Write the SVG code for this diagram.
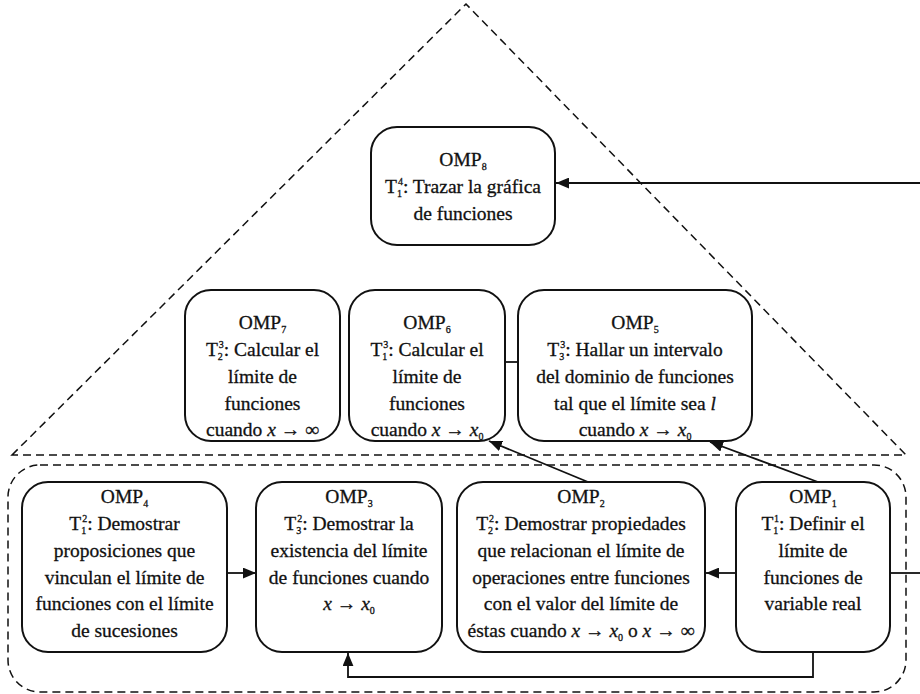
<svg xmlns="http://www.w3.org/2000/svg" width="920" height="694" viewBox="0 0 920 694">
<style>
.box{fill:#fff;stroke:#111;stroke-width:2}
.dash{fill:none;stroke:#111;stroke-width:1.5;stroke-dasharray:8 5}
.ln{fill:none;stroke:#111;stroke-width:1.8}
.t text{font-size:19.5px;fill:#111;stroke:#111;stroke-width:0.3;text-anchor:middle}
.s{font-size:10px}
.i{font-style:italic}
</style>
<defs>
<marker id="ah" viewBox="0 0 12 10" refX="12" refY="5" markerWidth="13" markerHeight="11" markerUnits="userSpaceOnUse" orient="auto">
<path d="M0,0 L12,5 L0,10 z" fill="#111"/>
</marker>
</defs>
<rect width="920" height="694" fill="#fff"/>
<g id="regions">
<path class="dash" d="M12,455 L466,4 L906,455 Z"/>
<rect class="dash" x="8" y="465" width="898" height="227" rx="32"/>
</g>
<g id="connectors">
<line class="ln" x1="920" y1="183" x2="556" y2="183" marker-end="url(#ah)"/>
<line class="ln" x1="505" y1="362" x2="518" y2="362"/>
<line class="ln" x1="227" y1="573" x2="256" y2="573" marker-end="url(#ah)"/>
<line class="ln" x1="736" y1="573" x2="706" y2="573" marker-end="url(#ah)"/>
<line class="ln" x1="890" y1="573" x2="920" y2="573"/>
<polyline class="ln" points="813,652 813,677 348,677 348,653" marker-end="url(#ah)"/>
<line class="ln" x1="588" y1="482" x2="489" y2="441" marker-end="url(#ah)"/>
<line class="ln" x1="818" y1="482" x2="710" y2="442" marker-end="url(#ah)"/>
</g>
<g class="t" font-family="'Liberation Serif', 'Times New Roman', 'DejaVu Serif', serif">
<g id="omp8">
<rect class="box" x="371" y="127" width="184" height="118" rx="26"/>
<text x="463" y="166">OMP<tspan class="s" dy="4">8</tspan></text>
<text x="463" y="193">T<tspan class="s" dy="4">1</tspan><tspan class="s" dx="-4" dy="-12">4</tspan><tspan dy="8">: Trazar la gráfica</tspan></text>
<text x="463" y="220">de funciones</text>
</g>
<g id="omp7">
<rect class="box" x="185" y="290" width="155" height="151" rx="26"/>
<text x="262.5" y="329">OMP<tspan class="s" dy="4">7</tspan></text>
<text x="262.5" y="356">T<tspan class="s" dy="4">2</tspan><tspan class="s" dx="-4" dy="-12">3</tspan><tspan dy="8">: Calcular el</tspan></text>
<text x="262.5" y="383">límite de</text>
<text x="262.5" y="410">funciones</text>
<text x="262.5" y="436">cuando <tspan class="i">x</tspan> → ∞</text>
</g>
<g id="omp6">
<rect class="box" x="349" y="290" width="156" height="151" rx="26"/>
<text x="427" y="329">OMP<tspan class="s" dy="4">6</tspan></text>
<text x="427" y="356">T<tspan class="s" dy="4">1</tspan><tspan class="s" dx="-4" dy="-12">3</tspan><tspan dy="8">: Calcular el</tspan></text>
<text x="427" y="383">límite de</text>
<text x="427" y="410">funciones</text>
<text x="427" y="436">cuando <tspan class="i">x</tspan> → <tspan class="i">x</tspan><tspan class="s" dy="4">0</tspan></text>
</g>
<g id="omp5">
<rect class="box" x="518" y="290" width="234" height="151" rx="26"/>
<text x="635" y="329">OMP<tspan class="s" dy="4">5</tspan></text>
<text x="635" y="356">T<tspan class="s" dy="4">3</tspan><tspan class="s" dx="-4" dy="-12">3</tspan><tspan dy="8">: Hallar un intervalo</tspan></text>
<text x="635" y="383">del dominio de funciones</text>
<text x="635" y="410">tal que el límite sea <tspan class="i">l</tspan></text>
<text x="635" y="436">cuando <tspan class="i">x</tspan> → <tspan class="i">x</tspan><tspan class="s" dy="4">0</tspan></text>
</g>
<g id="omp4">
<rect class="box" x="22" y="482" width="205" height="170" rx="26"/>
<text x="124.5" y="503">OMP<tspan class="s" dy="4">4</tspan></text>
<text x="124.5" y="530">T<tspan class="s" dy="4">1</tspan><tspan class="s" dx="-4" dy="-12">2</tspan><tspan dy="8">: Demostrar</tspan></text>
<text x="124.5" y="557">proposiciones que</text>
<text x="124.5" y="584">vinculan el límite de</text>
<text x="124.5" y="610">funciones con el límite</text>
<text x="124.5" y="637">de sucesiones</text>
</g>
<g id="omp3">
<rect class="box" x="256" y="482" width="186" height="170" rx="26"/>
<text x="349" y="503">OMP<tspan class="s" dy="4">3</tspan></text>
<text x="349" y="530">T<tspan class="s" dy="4">3</tspan><tspan class="s" dx="-4" dy="-12">2</tspan><tspan dy="8">: Demostrar la</tspan></text>
<text x="349" y="557">existencia del límite</text>
<text x="349" y="584">de funciones cuando</text>
<text x="349" y="610"><tspan class="i">x</tspan> → <tspan class="i">x</tspan><tspan class="s" dy="4">0</tspan></text>
</g>
<g id="omp2">
<rect class="box" x="457" y="482" width="248" height="170" rx="26"/>
<text x="581" y="503">OMP<tspan class="s" dy="4">2</tspan></text>
<text x="581" y="530">T<tspan class="s" dy="4">2</tspan><tspan class="s" dx="-4" dy="-12">2</tspan><tspan dy="8">: Demostrar propiedades</tspan></text>
<text x="581" y="557">que relacionan el límite de</text>
<text x="581" y="584">operaciones entre funciones</text>
<text x="581" y="610">con el valor del límite de</text>
<text x="581" y="637">éstas cuando <tspan class="i">x</tspan> → <tspan class="i">x</tspan><tspan class="s" dy="4">0</tspan><tspan dy="-4"> o </tspan><tspan class="i">x</tspan> → ∞</text>
</g>
<g id="omp1">
<rect class="box" x="736" y="482" width="154" height="170" rx="26"/>
<text x="813" y="503">OMP<tspan class="s" dy="4">1</tspan></text>
<text x="813" y="530">T<tspan class="s" dy="4">1</tspan><tspan class="s" dx="-4" dy="-12">1</tspan><tspan dy="8">: Definir el</tspan></text>
<text x="813" y="557">límite de</text>
<text x="813" y="584">funciones de</text>
<text x="813" y="610">variable real</text>
</g>
</g>
</svg>
